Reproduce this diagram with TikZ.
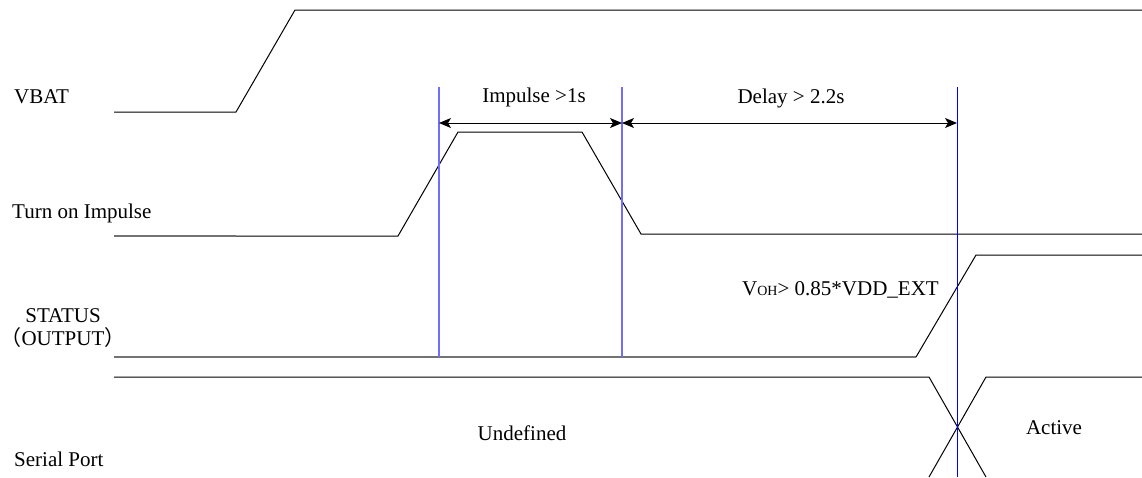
\documentclass[tikz,border=0pt]{standalone}
\usepackage{fontspec}
\setmainfont{Liberation Serif}
\newfontfamily\cjkfont{Noto Sans CJK SC}
\usetikzlibrary{arrows.meta}
\definecolor{markblue}{RGB}{110,110,255}
\definecolor{pureblue}{RGB}{0,0,255}
\tikzset{
  sig/.style={black, line width=1pt},
  siggray/.style={gray!90!black, line width=1.6pt},
  marker/.style={markblue, line width=1.6pt},
  markerdark/.style={pureblue, line width=1pt},
  lbl/.style={font=\fontsize{21}{24}\selectfont, inner sep=0pt},
  dim/.style={black, line width=1pt, {Stealth[length=12pt,width=10pt,inset=3pt]}-{Stealth[length=12pt,width=10pt,inset=3pt]}}
}
\begin{document}
\begin{tikzpicture}[x=1pt,y=-1pt]
\useasboundingbox (0,0) rectangle (1142,477);
% labels
\node[lbl, anchor=base west] (lvbat) at (14,103) {VBAT};
\node[lbl, anchor=base west] (lton) at (12,218) {Turn on Impulse};
\node[lbl, anchor=base] (lstat) at (63,322) {STATUS};
\node[lbl, anchor=base] (lout) at (63,345) {{\cjkfont（}OUTPUT{\cjkfont）}};
\node[lbl, anchor=base west] (lser) at (14,466) {Serial Port};
% VBAT
\coordinate (v0) at (114,112);
\coordinate (v1) at (236,112);
\coordinate (v2) at (295,10);
\coordinate (v3) at (1142,10);
\draw[sig] (v0) -- (v1) -- (v2) -- (v3);
% Turn on impulse
\coordinate (t0) at (114,236);
\coordinate (t1) at (236,236);
\coordinate (t2) at (398,236);
\coordinate (t3) at (458,132);
\coordinate (t4) at (582,132);
\coordinate (t5) at (641,234);
\coordinate (t6) at (1142,234);
\draw[siggray, line width=1.2pt] (t0) -- (t1);
\draw[sig] (t1) -- (t2) -- (t3) -- (t4) -- (t5) -- (t6);
% STATUS
\coordinate (s0) at (114,357);
\coordinate (s1) at (916,357);
\coordinate (s2) at (976,255);
\coordinate (s3) at (1142,255);
\draw[siggray] (s0) -- (s1);
\draw[sig] (s1) -- (s2) -- (s3);
% Serial port
\coordinate (p0) at (114,377);
\coordinate (p1) at (929,377);
\coordinate (p2) at (986,477);
\coordinate (p3) at (929,477);
\coordinate (p4) at (986,377);
\coordinate (p5) at (1142,377);
\draw[sig] (p0) -- (p1) -- (p2);
\draw[sig] (p3) -- (p4) -- (p5);
% markers
\coordinate (m1t) at (439,87);
\coordinate (m1b) at (439,357);
\coordinate (m2t) at (622,87);
\coordinate (m2b) at (622,357);
\coordinate (m3t) at (957,87);
\coordinate (m3b) at (957,477);
\draw[marker] (m1t) -- (m1b);
\draw[marker] (m2t) -- (m2b);
\draw[markerdark] (m3t) -- (m3b);
% dimension arrows
\coordinate (a1) at (439,123);
\coordinate (a2) at (622,123);
\coordinate (a3) at (957,123);
\draw[dim] (a1) -- (a2);
\draw[dim] (a2) -- (a3);
\node[lbl, anchor=base] (limp) at (534,102) {Impulse >1s};
\node[lbl, anchor=base] (ldel) at (791,103) {Delay > 2.2s};
\node[lbl, anchor=base west] (lvoh) at (742,295) {V{\fontsize{14}{16}\selectfont OH}> 0.85*VDD\_EXT};
\node[lbl, anchor=base] (lund) at (522,440) {Undefined};
\node[lbl, anchor=base] (lact) at (1054,434) {Active};
\end{tikzpicture}
\end{document}
